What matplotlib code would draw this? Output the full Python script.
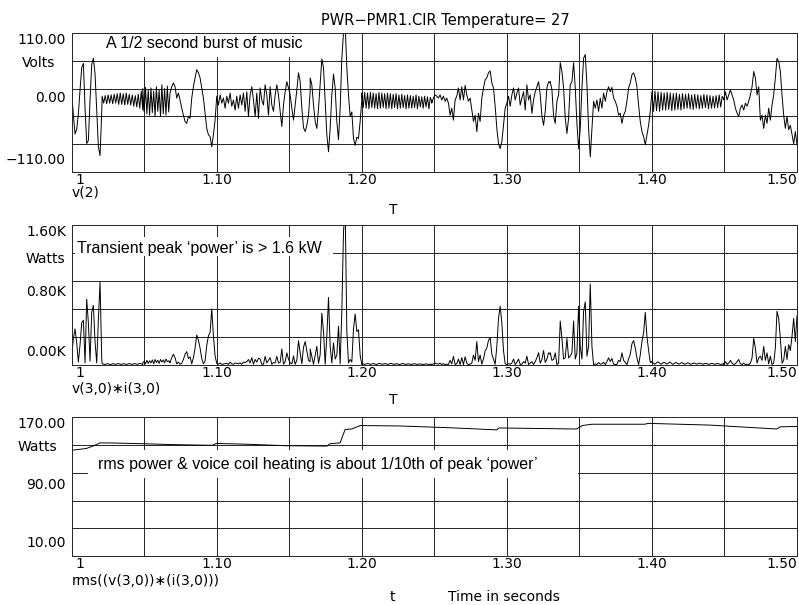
import numpy as np
import matplotlib.pyplot as plt
from matplotlib.patches import Rectangle
from matplotlib import transforms

# ---- v(2): the music burst, volts. Each span (ms after 1 s) holds evenly spaced samples
v2_spans = [(0.0, 20.7), (21.0, 49.0), (49.0, 67.8), (67.8, 100.0), (100.0, 164.4),
            (164.4, 200.0), (200.0, 248.2), (248.2, 329.9), (329.9, 400.0),
            (400.0, 449.5), (449.5, 500.0)]
v2_a = [15, -20, -50, -42, -18, 20, 55, 62, -9, -65, -60, 5, 60, 70, 45, -14, -70, -84, -15]
v2_b = [10, -1, 11, -2, 12, -1, 12, -2, 13, -1, 14, -3, 15, -3, 14, -4, 15, -3, 13, -4,
        12, -6, 11, -7, 13, -9, 18, -12]
v2_c = [22, -15, 24, -18, 20, -20, 23, -16, 18, -22, 25, -14, 20, -22, 28, -18, 22, -20,
        26, -15, 15]
v2_d = [15, 25, 31, 25, 7, 15, 4, -9, -20, -30, -33, -22, -25, 7, 25, 39, 52, 47, 39, 23,
        7, -17, -41, -51, -54, -70, -51, -28, 10]
v2_e = [10, -4, 12, -1, 7, -9, 10, -1, 15, -6, 4, -12, 10, -9, 12, -4, 15, -14, 17, -22,
        12, 25, 4, -22, 15, -25, 23, 4, -4, 28, 12, -20, 25, -4, -14, 12, 28, 12, -14, -38,
        -4, 17, 33, 23, 12, -9, -28, -4, 20, 47, 33, -9, -40, -46, -36, -20, 17]
v2_f = [39, 28, -4, -30, -41, -10, 30, 69, 55, 2, -51, -78, -41, 12, 45, 23, -30, -59, -9,
        70, 110, 122, 55, 12, -22, -15, -57, -68, -55, -57, -30, 4]
v2_g = [15, -8, 16, -9, 15, -10, 16, -8, 15, -9, 14, -10, 16, -9, 15, -8, 14, -10, 15, -9,
        14, -10, 13, -8, 14, -10, 12, -9, 13, -8, 11, -10, 12, -9, 11, -9, 10, -8, 12, -10,
        10, -7, 9, -9, 10, -7, 9, -10, 8, 2]
v2_h = [-1, 7, 12, 10, 7, 12, 4, 10, 2, 7, -1, -20, -9, -28, 4, 10, 23, 4, 25, 4, 27, 12,
        2, 7, -12, -30, -20, -46, -17, -30, 7, 23, 36, 39, 47, 50, 31, 23, -6, -41, -65,
        -73, -62, -36, -9, -1, 10, -6, 12, 23, 4, 15, 23, -4, 7, 17, -12, 28, 4, 12, -17,
        4, 17, 25, 33, 12, -22, -36, -14, 23, 33, 31]
v2_i = [33, 20, -22, -33, 2, 12, 63, 49, 23, -25, -49, -25, 28, 33, 63, 23, -33, -73, -41,
        23, 70, 76, 28, -41, -86, -41, 2, -9, 4, -14, 7, -9, 15, 2, 17, 25, 17, 24, 7, 2,
        -6, -20, -17, -33, -20, -14, 2, 23, 31, 44, 47, 39, 25, -4, -30, -46, -54, -67,
        -51, -36, -14, 17]
v2_j = [17, -14, 18, -13, 17, -14, 16, -12, 15, -12, 16, -11, 15, -13, 14, -12, 15, -11,
        13, -12, 14, -10, 13, -9, 14, -10, 12, -11, 13, -9, 12, -10, 11, -9, 13, -8, 12,
        -10, 11, -9, 10, -9, 11, -8, 12, -7, 10, 5]
v2_k = [4, 17, 4, 12, 20, 12, 4, -9, -17, -22, -9, -4, -12, -1, -6, 2, 12, 25, 49, 39, 12,
        25, -28, -20, -41, -20, -33, -9, -28, -4, 12, 39, 70, 65, 49, 12, -20, -41, -22,
        -43, -36, -51, -65, -46, -67]
v2_segs = [v2_a, v2_b, v2_c, v2_d, v2_e, v2_f, v2_g, v2_h, v2_i, v2_j, v2_k]

# ---- v(3,0)*i(3,0): instantaneous power, watts
pw_spans = v2_spans
pw_a = [100, 300, 410, 250, 30, 230, 480, 510, 20, 750, 480, 40, 600, 680, 260, 20, 520,
        950, 60]
pw_b = [10, 3, 12, 2, 11, 4, 13, 3, 12, 2, 14, 3, 13, 4, 15, 2]
pw_c = [20, 40, 10, 50, 15, 45, 20, 55, 10, 60, 25, 50, 15, 60, 30, 55, 20, 65, 35, 45, 20]
pw_d = [30, 80, 120, 80, 10, 30, 5, 15, 60, 120, 150, 70, 90, 10, 80, 190, 340, 280, 190,
        70, 10, 40, 220, 330, 370, 640, 330, 100, 15]
pw_e = [15, 5, 20, 3, 8, 12, 15, 3, 30, 8, 5, 20, 15, 12, 20, 5, 30, 25, 35, 60, 20, 80, 5,
        60, 30, 75, 65, 5, 5, 95, 20, 50, 80, 5, 25, 20, 95, 20, 25, 180, 5, 35, 135, 65,
        20, 10, 100, 5, 50, 275, 135, 10, 200, 265, 160, 50, 35]
pw_f = [180, 95, 5, 110, 210, 15, 115, 590, 380, 5, 330, 770, 210, 20, 250, 65, 110, 440,
        10, 620, 1520, 1800, 380, 20, 60, 30, 410, 580, 380, 400, 110, 5]
pw_g = [12, 3, 15, 4, 14, 2, 16, 5, 13, 3, 15, 4, 12, 2, 14, 3, 11, 2, 12, 3, 10, 2, 9, 3, 6]
pw_h = [3, 8, 18, 12, 6, 18, 2, 12, 1, 6, 3, 50, 10, 95, 2, 12, 65, 2, 80, 2, 90, 18, 1, 6,
        18, 110, 50, 265, 36, 110, 6, 65, 160, 190, 280, 310, 120, 65, 5, 210, 530, 670,
        480, 160, 10, 2, 12, 5, 18, 65, 2, 28, 65, 2, 6, 36, 18, 98, 2, 18, 36, 2, 36, 78,
        136, 18, 60, 162, 25, 66, 136, 120]
pw_i = [136, 50, 60, 136, 1, 18, 500, 300, 65, 78, 300, 78, 98, 136, 500, 65, 136, 670,
        210, 65, 610, 720, 98, 210, 925, 210, 1, 10, 2, 25, 6, 10, 28, 1, 36, 78, 36, 72, 6,
        1, 5, 50, 36, 136, 50, 25, 1, 66, 120, 240, 276, 190, 78, 2, 112, 265, 365, 600,
        325, 162, 25, 36]
pw_j = [30, 6, 34, 5, 28, 7, 30, 4, 26, 6, 25, 5, 22, 4, 20, 6, 18, 5, 16, 4, 15, 5, 14, 3,
        12]
pw_k = [2, 36, 2, 18, 50, 18, 2, 10, 36, 60, 10, 2, 18, 1, 5, 1, 18, 78, 300, 190, 18, 78,
        98, 50, 210, 50, 136, 10, 98, 2, 18, 190, 612, 530, 300, 18, 50, 210, 60, 230, 162,
        325, 530, 265, 560]
pw_segs = [pw_a, pw_b, pw_c, pw_d, pw_e, pw_f, pw_g, pw_h, pw_i, pw_j, pw_k]

# ---- rms((v(3,0))*(i(3,0))), watts
rms_ms = [0, 5, 10, 15, 19.5, 30, 49, 70, 97, 99.5, 120, 148, 176, 178, 185, 188.5, 193,
          199, 226, 260, 293, 294.5, 348, 352, 358.6, 395, 397.5, 440, 486, 488.5, 500]
rms_w = [132, 133, 134, 137, 140.5, 140.3, 139.5, 138.5, 137.7, 139.8, 139, 137.2, 136.8,
         139.5, 140.5, 156, 156.5, 160.5, 160, 158, 155.5, 157.7, 156.5, 160.5, 162, 162,
         163, 161, 156.5, 159, 159.5]


def build(spans, segs):
    tt, yy = [], []
    for (a, b), vals in zip(spans, segs):
        tt.append(np.linspace(a, b, len(vals)))
        yy.append(np.array(vals, dtype=float))
    return 1.0 + np.concatenate(tt) / 1000.0, np.concatenate(yy)


t_v2, v2 = build(v2_spans, v2_segs)
t_pw, pw = build(pw_spans, pw_segs)
t_rms = 1.0 + np.array(rms_ms) / 1000.0

W, H = 799, 605
fig = plt.figure(figsize=(W / 100, H / 100), dpi=100)
grid_c = '#2a2a2a'
fs = 10
px = 0.72  # one pixel, in points
ann_font = ['Liberation Sans', 'DejaVu Sans']


def make_ax(top, bottom, ylo, yhi):
    ax = fig.add_axes([71.7 / W, 1 - bottom / H, (797 - 71.7) / W, (bottom - top) / H])
    ax.set_xlim(1.0, 1.5)
    ax.set_ylim(ylo, yhi)
    ax.set_xticks(np.linspace(1.0, 1.5, 11))
    ax.set_yticks(np.linspace(ylo, yhi, 6))
    ax.tick_params(length=0, labelleft=False, labelbottom=False)
    ax.grid(True, color=grid_c, lw=px, antialiased=False)
    for s in ax.spines.values():
        s.set_color(grid_c)
        s.set_linewidth(px)
        s.set_antialiased(False)
    return ax


def curve(ax, t, y):
    ax.plot(t, y, color='black', lw=0.7, zorder=2)


def ylabels(ax, labels, mid_shift, bot_shift):
    tr = transforms.blended_transform_factory(ax.transAxes, ax.transData)
    ylo, yhi = ax.get_ylim()
    ax.text(-0.008, yhi, labels[0], transform=tr, ha='right', va='top', fontsize=fs)
    ax.text(-0.008, (ylo + yhi) / 2 + mid_shift, labels[1], transform=tr, ha='right',
            va='center', fontsize=fs)
    ax.text(-0.008, ylo + bot_shift, labels[2], transform=tr, ha='right', va='bottom',
            fontsize=fs)


def xlabels(ax):
    tr = transforms.blended_transform_factory(ax.transData, ax.transAxes)
    ax.text(1.0025, -0.008, '1', transform=tr, ha='left', va='top', fontsize=fs)
    for x, s in [(1.1, '1.10'), (1.2, '1.20'), (1.3, '1.30'), (1.4, '1.40')]:
        ax.text(x, -0.008, s, transform=tr, ha='center', va='top', fontsize=fs)
    ax.text(1.5, -0.008, '1.50', transform=tr, ha='right', va='top', fontsize=fs)


def blank(ax, x0, x1, y0, y1):
    ax.add_patch(Rectangle((x0, y0), x1 - x0, y1 - y0, transform=ax.transAxes,
                           facecolor='white', edgecolor='none', zorder=1.8))


# panel 1
ax1 = make_ax(33, 172, -110, 110)
curve(ax1, t_v2, v2)
ylabels(ax1, ['110.00', '0.00', '\u2212110.00'], 7, 8)
xlabels(ax1)
ax1.text(-0.023, 0.784, 'Volts', transform=ax1.transAxes, ha='right', va='center', fontsize=fs)
blank(ax1, 0.028, 0.356, 0.827, 1.0)
ax1.text(0.0473, 0.928, 'A 1/2 second burst of music', transform=ax1.transAxes, ha='left',
         va='center', fontsize=11.5, family=ann_font, zorder=3)

# panel 2
ax2 = make_ax(225, 364.7, 0, 1600)
curve(ax2, t_pw, pw)
ylabels(ax2, ['1.60K', '0.80K', '0.00K'], 35, 69)
xlabels(ax2)
ax2.text(-0.0092, 0.757, 'Watts', transform=ax2.transAxes, ha='right', va='center', fontsize=fs)
blank(ax2, 0.0045, 0.360, 0.778, 0.914)
ax2.text(0.0069, 0.835, 'Transient peak \u2018power\u2019 is > 1.6 kW', transform=ax2.transAxes,
         ha='left', va='center', fontsize=11.5, family=ann_font, zorder=3)

# panel 3
ax3 = make_ax(417.3, 556, 10, 170)
curve(ax3, t_rms, rms_w)
ylabels(ax3, ['170.00', '90.00', '10.00'], 2, 7)
xlabels(ax3)
ax3.text(-0.020, 0.786, 'Watts', transform=ax3.transAxes, ha='right', va='center', fontsize=fs)
blank(ax3, 0.0225, 0.698, 0.562, 0.764)
ax3.text(0.0363, 0.663, 'rms power & voice coil heating is about 1/10th of peak \u2018power\u2019',
         transform=ax3.transAxes, ha='left', va='center', fontsize=11.5, family=ann_font,
         zorder=3)

# figure level labels
fig.text(445 / W, 1 - 21 / H, 'PWR\u2212PMR1.CIR Temperature= 27', ha='center', va='center',
         fontsize=10.5)
fig.text(72 / W, 1 - 193 / H, 'v(2)', ha='left', va='center', fontsize=fs)
fig.text(393 / W, 1 - 210 / H, 'T', ha='center', va='center', fontsize=fs)
fig.text(72 / W, 1 - 389 / H, 'v(3,0)\u2217i(3,0)', ha='left', va='center', fontsize=fs)
fig.text(393 / W, 1 - 400 / H, 'T', ha='center', va='center', fontsize=fs)
fig.text(72 / W, 1 - 581 / H, 'rms((v(3,0))\u2217(i(3,0)))', ha='left', va='center', fontsize=fs)
fig.text(392 / W, 1 - 597 / H, 't', ha='center', va='center', fontsize=fs)
fig.text(448 / W, 1 - 597 / H, 'Time in seconds', ha='left', va='center', fontsize=fs)

fig.savefig('out.png', dpi=100)
